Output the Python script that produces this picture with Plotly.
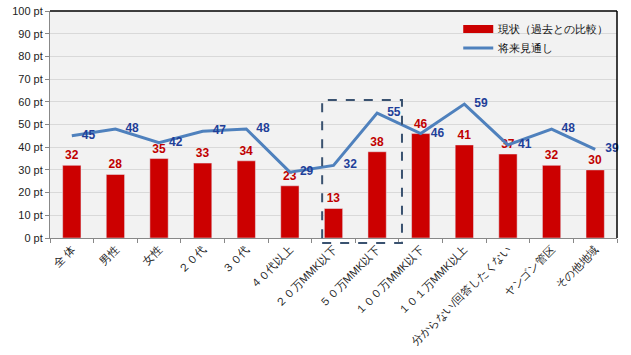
import plotly.graph_objects as go

categories = ["全 体", "男性", "女性", "２０代", "３０代", "４０代以上", "２０万MMK以下",
              "５０万MMK以下", "１００万MMK以下", "１０１万MMK以上", "分からない/回答したくない",
              "ヤンゴン管区", "その他地域"]
current = [32, 28, 35, 33, 34, 23, 13, 38, 46, 41, 37, 32, 30]
outlook = [45, 48, 42, 47, 48, 29, 32, 55, 46, 59, 41, 48, 39]
yticks = [0, 10, 20, 30, 40, 50, 60, 70, 80, 90, 100]
ytick_labels = [f"{v} pt" for v in yticks]

font = "Arial, Liberation Sans, sans-serif"
NB = "\u00a0"

fig = go.Figure()
fig.add_trace(go.Bar(
    x=categories, y=current, name="現状（過去との比較）",
    marker=dict(color="#CC0000"), width=0.42, showlegend=False,
    text=["<b>%d</b>" % v for v in current], textposition="outside",
    textfont=dict(color="#C00000", size=12, family=font),
    cliponaxis=False,
))
fig.add_trace(go.Scatter(
    x=categories, y=outlook, name="将来見通し", mode="lines+text",
    line=dict(color="#4F81BD", width=3), showlegend=False,
    text=[NB * 3 + "<b>%d</b>" % v for v in outlook], textposition="middle right",
    textfont=dict(color="#1F3F99", size=12, family=font),
    cliponaxis=False,
))
# legend entries
fig.add_trace(go.Scatter(x=[None], y=[None], mode="lines", name="現状（過去との比較）",
                         line=dict(color="#CC0000", width=8)))
fig.add_trace(go.Scatter(x=[None], y=[None], mode="lines", name="将来見通し",
                         line=dict(color="#4F81BD", width=3)))

fig.update_layout(
    width=631, height=355,
    margin=dict(l=50, r=14, t=11, b=117),
    paper_bgcolor="white", plot_bgcolor="#F2F2F2",
    font=dict(family=font, size=11, color="#222222"),
    showlegend=True,
    legend=dict(x=0.72, y=0.985, xanchor="left", yanchor="top",
                bgcolor="rgba(0,0,0,0)", font=dict(size=10.5, color="#111111"),
                tracegroupgap=0, itemwidth=30),
    bargap=0.58,
    xaxis=dict(type="category", tickangle=-45, showline=True, linecolor="#888888",
               ticks="outside", ticklen=4, tickcolor="#888888", tickson="boundaries",
               showgrid=False, tickfont=dict(size=11, color="#222222"),
               range=[-0.5, 12.5], automargin=False),
    yaxis=dict(range=[0, 100], tickvals=yticks, ticktext=ytick_labels,
               showline=True, linecolor="#888888", ticks="outside", ticklen=4,
               tickcolor="#888888", gridcolor="#D9D9D9", gridwidth=1,
               tickfont=dict(size=11, color="#222222"), zeroline=False, automargin=False),
    shapes=[
        dict(type="line", xref="paper", yref="paper", x0=0, x1=1, y0=1, y1=1,
             line=dict(color="#000000", width=1.5)),
        dict(type="line", xref="paper", yref="paper", x0=1, x1=1, y0=0, y1=1,
             line=dict(color="#000000", width=1.5)),
        dict(type="rect", xref="x", yref="paper", x0=5.74, x1=7.57, y0=-0.022, y1=0.608,
             line=dict(color="#3A5270", width=2, dash="dash"), fillcolor="rgba(0,0,0,0)"),
    ],
)

fig.write_html("out.html", config={"displayModeBar": False},
               post_script="document.body.style.margin='0';document.body.style.overflow='hidden';")
